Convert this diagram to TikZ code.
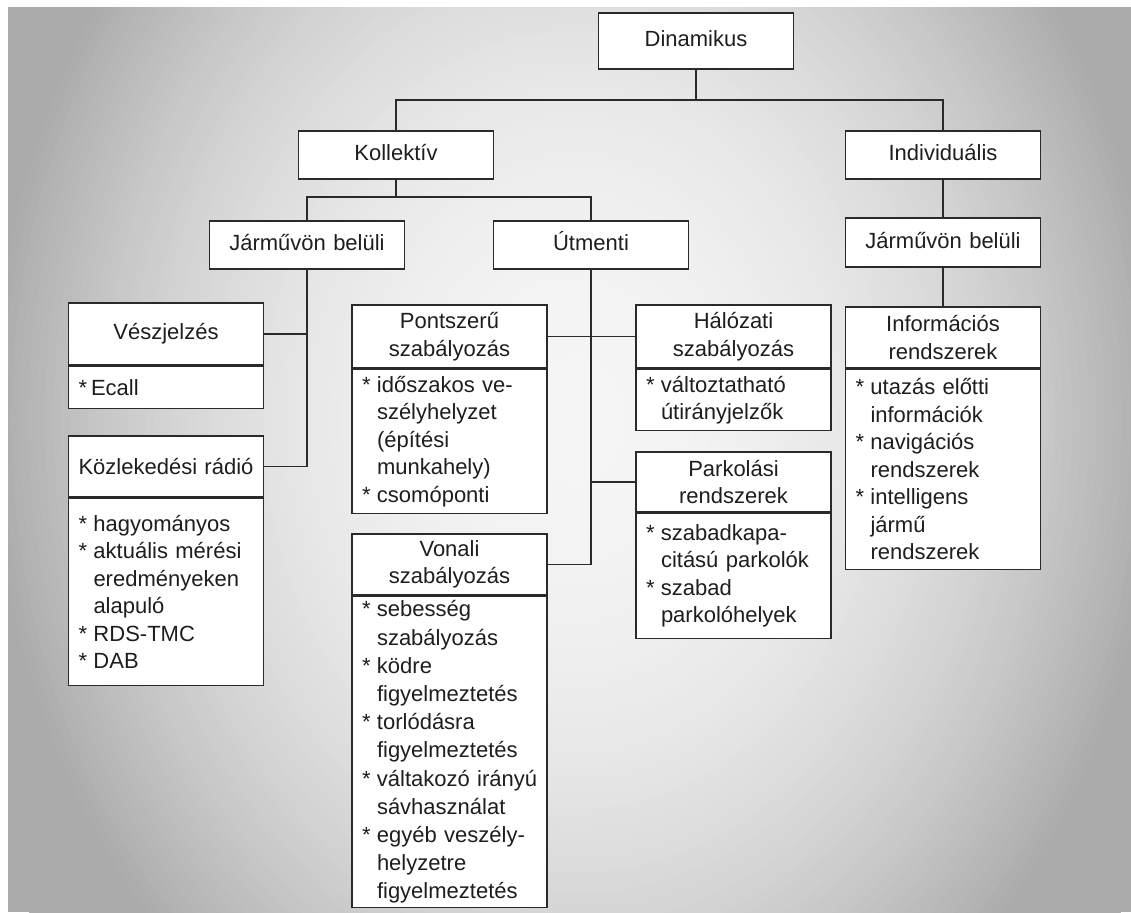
\documentclass[tikz,border=0pt]{standalone}
\usepackage{fontspec}
\setmainfont{Liberation Sans}

\definecolor{vonal}{HTML}{2A2A2A}
\definecolor{szoveg}{HTML}{1E1E1E}

\newcommand{\csill}{\makebox[15pt][l]{*}}
\newcommand{\beh}{\hspace*{15pt}}

\tikzset{
  doboz/.style={draw=vonal, line width=1.5pt, fill=white, text=szoveg,
    minimum width=195pt, inner sep=0pt, font=\fontsize{22}{27.5}\selectfont},
  szint/.style={doboz, minimum height=48pt, text width=185pt, align=center,
    text height=16pt, text depth=5pt},
  fej/.style={doboz, minimum height=62pt, text width=185pt, align=center},
  torzs/.style={doboz, anchor=north, text width=175pt, inner xsep=10pt, align=left},
  ag/.style={draw=vonal, line width=1.4pt}
}

\begin{document}
\begin{tikzpicture}[x=1pt, y=-1pt]
\useasboundingbox (0,0) rectangle (1131,912);
% hatter
\fill[white] (0,0) rectangle (1131,912);
\begin{scope}
\clip (8,8) rectangle (1131,912);
\fill[black!33] (8,8) rectangle (1131,912);
\foreach \k in {0,...,79}{
  \pgfmathsetmacro{\rr}{1.2-\k*0.015}
  \pgfmathsetmacro{\pp}{min(33,4+26*\rr^2.2)}
  \fill[black!\pp] (575,420) ellipse ({\rr*561} and {\rr*701});
}
\end{scope}

% felso szintek
\node[szint, minimum height=56pt] (din) at (696,41) {Dinamikus};
\node[szint] (koll) at (396,155) {Kollektív};
\node[szint] (indi) at (943,155) {Individuális};
\node[szint] (jarm1) at (307,245) {Járművön belüli};
\node[szint] (utm) at (591,245) {Útmenti};
\node[szint, minimum height=49pt] (jarm2) at (943,242.5) {Járművön belüli};

% jarmuvon beluli (kollektiv)
\node[fej] (vesz) at (166,334) {Vészjelzés};
\node[torzs, minimum height=42pt] (vesz-t) at (vesz.south) {*\hspace{4pt}Ecall};
\node[fej, minimum height=61pt] (kozl) at (166,466.5) {Közlekedési rádió};
\node[torzs, minimum height=187pt] (kozl-t) at (kozl.south)
  {\csill hagyományos\\ \csill aktuális mérési\\ \beh eredményeken\\ \beh alapuló\\
   \csill RDS-TMC\\ \csill DAB};

% utmenti
\node[fej, minimum height=63pt] (pont) at (449.5,336.5) {Pontszerű\\szabályozás};
\node[torzs, minimum height=144pt] (pont-t) at (pont.south)
  {\csill időszakos ve-\\ \beh szélyhelyzet\\ \beh (építési\\ \beh munkahely)\\
   \csill csomóponti};
\node[fej, minimum height=63pt] (halo) at (733.5,336.5) {Hálózati\\szabályozás};
\node[torzs, minimum height=61pt] (halo-t) at (halo.south)
  {\csill változtatható\\ \beh útirányjelzők};
\node[fej, minimum height=60pt] (park) at (733.5,482) {Parkolási\\rendszerek};
\node[torzs, minimum height=125pt] (park-t) at (park.south)
  {\csill szabadkapa-\\ \beh citású parkolók\\ \csill szabad\\ \beh parkolóhelyek};
\node[fej, minimum height=61pt] (vonali) at (449.5,564.5) {Vonali\\szabályozás};
\node[torzs, minimum height=311pt, font=\fontsize{22}{28.2}\selectfont] (vonali-t) at (vonali.south)
  {\csill sebesség\\ \beh szabályozás\\ \csill ködre\\ \beh figyelmeztetés\\
   \csill torlódásra\\ \beh figyelmeztetés\\ \csill\mbox{váltakozó irányú}\\ \beh sávhasználat\\
   \csill egyéb veszély-\\ \beh helyzetre\\ \beh figyelmeztetés};

% individualis
\node[fej, minimum height=61pt] (info) at (943,337.5) {Információs\\rendszerek};
\node[torzs, minimum height=200pt] (info-t) at (info.south)
  {\csill utazás előtti\\ \beh információk\\ \csill navigációs\\ \beh rendszerek\\
   \csill intelligens\\ \beh jármű\\ \beh rendszerek};

% kapcsolatok
\coordinate (elag1) at (696,100);
\coordinate (elag2) at (396,197);
\draw[ag] (din.south) -- (elag1);
\draw[ag] (koll.north) |- (elag1) -| (indi.north);
\draw[ag] (koll.south) -- (elag2);
\draw[ag] (jarm1.north) |- (elag2) -| (utm.north);
\draw[ag] (indi.south) -- (jarm2.north);
\draw[ag] (jarm2.south) -- (info.north);
\draw[ag] (jarm1.south) |- (kozl.east);
\draw[ag] (vesz.east) -- (vesz.east -| jarm1.south);
\draw[ag] (utm.south) |- (vonali.east);
\draw[ag] (pont.east) -- (halo.west);
\draw[ag] (park.west) -- (park.west -| utm.south);

\end{tikzpicture}
\end{document}
